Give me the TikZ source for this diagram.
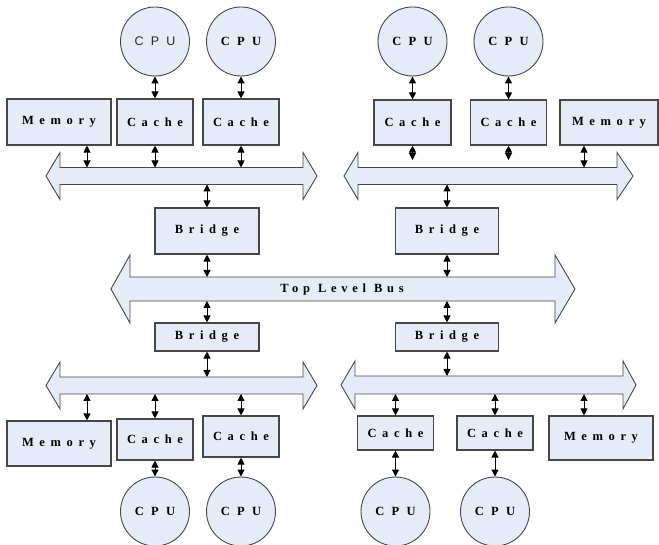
\documentclass[tikz,border=0pt]{standalone}
\usepackage{fontspec}
\setmainfont{Liberation Serif}
\newfontfamily\lblfont[LetterSpace=45]{Liberation Serif}
\newfontfamily\busfont[LetterSpace=38]{Liberation Serif}
\newfontfamily\cpufont[LetterSpace=58]{Liberation Serif}
\newfontfamily\cpusans[LetterSpace=58]{Liberation Sans}
\usetikzlibrary{arrows.meta}
\definecolor{boxfill}{RGB}{230,236,247}
\definecolor{edgegray}{RGB}{70,70,70}
\newcommand{\drawbus}[7]{%
  \draw[bus] (#1,#5) -- (#2,#5-#7) -- (#2,#5-#6) -- (#3,#5-#6) -- (#3,#5-#7) -- (#4,#5)
    -- (#3,#5+#7) -- (#3,#5+#6) -- (#2,#5+#6) -- (#2,#5+#7) -- cycle;}
\begin{document}
\begin{tikzpicture}[x=1pt,y=-1pt,
  box/.style={draw=edgegray, fill=boxfill, line width=1.1pt, inner sep=0pt,
    font=\lblfont\bfseries\fontsize{12.5}{14}\selectfont},
  cpu/.style={circle, draw=edgegray, fill=boxfill, line width=0.9pt, inner sep=0pt,
    minimum size=69pt, font=\cpufont\bfseries\fontsize{12.5}{14}\selectfont},
  bus/.style={draw=edgegray, fill=boxfill, line width=0.9pt, line join=miter},
  link/.style={{Triangle[length=7pt,width=7pt]}-{Triangle[length=7pt,width=7pt]}, line width=1pt, black}]
\useasboundingbox (0,0) rectangle (659,545);

% buses
\drawbus{46}{60}{303}{317}{176}{8.5}{23.5}
\drawbus{344}{358}{617}{633}{176}{8.5}{23.5}
\drawbus{111}{130}{555}{575}{289}{12}{34}
\drawbus{46}{60}{303}{317}{385.5}{8.5}{23.5}
\drawbus{341}{355}{623}{636}{385}{9}{24}
\node[font=\busfont\bfseries\fontsize{12.5}{14}\selectfont] (tlbtext) at (342,289) {Top Level Bus};

% top-left cluster
\node[cpu, font=\cpusans\fontsize{12.5}{14}\selectfont, text=black!85] (cpuTL1) at (155,41.5) {CPU};
\node[cpu] (cpuTL2) at (241,41.5) {CPU};
\node[box, minimum width=104pt, minimum height=46pt] (memTL) at (59,122) {Memory};
\node[box, minimum width=76pt, minimum height=46pt] (caTL1) at (155,122) {Cache};
\node[box, minimum width=76pt, minimum height=46pt] (caTL2) at (241,122) {Cache};

% top-right cluster
\node[cpu] (cpuTR1) at (412.5,41.5) {CPU};
\node[cpu] (cpuTR2) at (508.5,41.5) {CPU};
\node[box, minimum width=77pt, minimum height=45pt] (caTR1) at (412.5,122.5) {Cache};
\node[box, minimum width=76pt, minimum height=45pt] (caTR2) at (508.5,122.5) {Cache};
\node[box, minimum width=98pt, minimum height=45pt] (memTR) at (609,122.5) {Memory};

% bridges
\node[box, minimum width=104pt, minimum height=46pt] (brTL) at (207,231) {Bridge};
\node[box, minimum width=103pt, minimum height=46pt] (brTR) at (447,231) {Bridge};
\node[box, minimum width=104pt, minimum height=28pt] (brBL) at (207,337) {Bridge};
\node[box, minimum width=103pt, minimum height=28pt] (brBR) at (447,337) {Bridge};

% bottom-left cluster
\node[box, minimum width=104pt, minimum height=45pt] (memBL) at (59,443.5) {Memory};
\node[box, minimum width=76pt, minimum height=41pt] (caBL1) at (155,439.5) {Cache};
\node[box, minimum width=76pt, minimum height=41pt] (caBL2) at (241,436.5) {Cache};
\node[cpu] (cpuBL1) at (155,511.5) {CPU};
\node[cpu] (cpuBL2) at (241,511.5) {CPU};

% bottom-right cluster
\node[box, minimum width=76pt, minimum height=34pt] (caBR1) at (395.5,433) {Cache};
\node[box, minimum width=76pt, minimum height=34pt] (caBR2) at (495,433) {Cache};
\node[box, minimum width=104pt, minimum height=44pt] (memBR) at (601,438) {Memory};
\node[cpu] (cpuBR1) at (395.5,511.5) {CPU};
\node[cpu] (cpuBR2) at (495,511.5) {CPU};

% bus attachment points
\coordinate (tl1) at (87,167.5);
\coordinate (tl2) at (155,167.5);
\coordinate (tl3) at (241,167.5);
\coordinate (tl4) at (207,184.5);
\coordinate (tr1) at (412.5,160);
\coordinate (tr2) at (508.5,160);
\coordinate (tr3) at (584,167.5);
\coordinate (tr4) at (447,184.5);
\coordinate (tlb1) at (207,277);
\coordinate (tlb2) at (207,301);
\coordinate (tlb3) at (447,277);
\coordinate (tlb4) at (447,301);
\coordinate (bl0) at (207,377);
\coordinate (bl1) at (87,394);
\coordinate (bl2) at (155,394);
\coordinate (bl3) at (241,394);
\coordinate (br0) at (447,376);
\coordinate (br1) at (395.5,394);
\coordinate (br2) at (495,394);
\coordinate (br3) at (584,394);

% connectors top-left
\draw[link] (cpuTL1.south) -- (caTL1.north);
\draw[link] (cpuTL2.south) -- (caTL2.north);
\draw[link] (memTL.south -| tl1) -- (tl1);
\draw[link] (caTL1.south) -- (tl2);
\draw[link] (caTL2.south) -- (tl3);
\draw[link] (tl4) -- (brTL.north);
\draw[link] (brTL.south) -- (tlb1);

% connectors top-right
\draw[link] (cpuTR1.south) -- (caTR1.north);
\draw[link] (cpuTR2.south) -- (caTR2.north);
\draw[link] (caTR1.south) -- (tr1);
\draw[link] (caTR2.south) -- (tr2);
\draw[link] (memTR.south -| tr3) -- (tr3);
\draw[link] (tr4) -- (brTR.north);
\draw[link] (brTR.south) -- (tlb3);

% connectors bottom-left
\draw[link] (tlb2) -- (brBL.north);
\draw[link] (brBL.south) -- (bl0);
\draw[link] (bl1) -- (memBL.north -| bl1);
\draw[link] (bl2) -- (caBL1.north);
\draw[link] (bl3) -- (caBL2.north);
\draw[link] (caBL1.south) -- (cpuBL1.north);
\draw[link] (caBL2.south) -- (cpuBL2.north);

% connectors bottom-right
\draw[link] (tlb4) -- (brBR.north);
\draw[link] (brBR.south) -- (br0);
\draw[link] (br1) -- (caBR1.north);
\draw[link] (br2) -- (caBR2.north);
\draw[link] (br3) -- (memBR.north -| br3);
\draw[link] (caBR1.south) -- (cpuBR1.north);
\draw[link] (caBR2.south) -- (cpuBR2.north);
\end{tikzpicture}
\end{document}
